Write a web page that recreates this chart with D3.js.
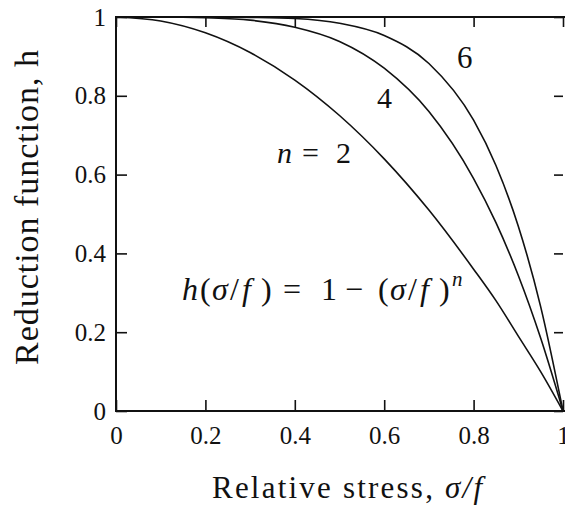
<!DOCTYPE html>
<html>
<head>
<meta charset="utf-8">
<script src="https://cdn.jsdelivr.net/npm/d3@7"></script>
<style>
  html, body { margin: 0; padding: 0; background: #fff; }
</style>
</head>
<body>
<div id="chart"></div>
<script>
// values
const stressValues = [0, 0.1, 0.2, 0.3, 0.4, 0.5, 0.6, 0.7, 0.8, 0.85, 0.9, 0.95, 1];
const hN2 = [1, 0.99, 0.96, 0.91, 0.84, 0.75, 0.64, 0.51, 0.36, 0.28, 0.19, 0.10, 0];
const hN4 = [1, 1.0, 0.998, 0.992, 0.974, 0.938, 0.87, 0.76, 0.59, 0.478, 0.344, 0.185, 0];
const hN6 = [1, 1, 1, 0.999, 0.996, 0.984, 0.953, 0.882, 0.738, 0.623, 0.469, 0.265, 0];
const xTicks = [0, 0.2, 0.4, 0.6, 0.8, 1];
const yTicks = [0, 0.2, 0.4, 0.6, 0.8, 1];

const serif = "'Liberation Serif'";
const width = 565, height = 511;
const margin = { top: 17, right: 2, bottom: 100, left: 116 };
const innerW = width - margin.left - margin.right;
const innerH = height - margin.top - margin.bottom;

const svg = d3.select('#chart')
  .append('svg')
  .attr('width', width)
  .attr('height', height);

const g = svg.append('g')
  .attr('transform', `translate(${margin.left},${margin.top})`);

const x = d3.scaleLinear().domain([0, 1]).range([0, innerW]);
const y = d3.scaleLinear().domain([0, 1]).range([innerH, 0]);

// bottom axis, ticks pointing in
const xAxis = g.append('g')
  .attr('transform', `translate(0,${innerH})`)
  .call(d3.axisBottom(x).tickValues(xTicks).tickSize(-11).tickPadding(15).tickFormat(d => String(d)));
// left axis
const yAxis = g.append('g')
  .call(d3.axisLeft(y).tickValues(yTicks).tickSize(-11).tickPadding(10).tickFormat(d => String(d)));
// top and right: ticks only
const topAxis = g.append('g')
  .call(d3.axisTop(x).tickValues(xTicks).tickSize(-10).tickFormat(''));
const rightAxis = g.append('g')
  .attr('transform', `translate(${innerW},0)`)
  .call(d3.axisRight(y).tickValues(yTicks).tickSize(-9).tickFormat(''));

[xAxis, yAxis, topAxis, rightAxis].forEach(a => {
  a.select('.domain').remove();
  a.selectAll('line').attr('stroke', '#111').attr('stroke-width', 1.6);
  a.selectAll('text')
    .attr('fill', '#111')
    .style('font-family', serif)
    .style('font-size', '25px');
});

// frame (right side runs off the picture, as in the scan)
g.append('path')
  .attr('d', `M${innerW + 4},0H0V${innerH}H${innerW + 4}`)
  .attr('fill', 'none')
  .attr('stroke', '#111')
  .attr('stroke-width', 2);

// curves
const line = d3.line()
  .x((d, i) => x(stressValues[i]))
  .y(d => y(d))
  .curve(d3.curveMonotoneX);

[hN2, hN4, hN6].forEach(series => {
  g.append('path')
    .datum(series)
    .attr('d', line)
    .attr('fill', 'none')
    .attr('stroke', '#111')
    .attr('stroke-width', 1.6);
});

const label = (xPos, yPos, size) => svg.append('text')
  .attr('x', xPos).attr('y', yPos)
  .attr('fill', '#111')
  .style('font-family', serif)
  .style('font-size', size + 'px');

// piecewise math text, each piece at its own x
const mathText = (yPos, size, pieces) => {
  const t = label(pieces[0][0], yPos, size);
  pieces.forEach(([px, str, italic, extra]) => {
    const s = t.append('tspan').attr('x', px).text(str);
    if (italic) s.style('font-style', 'italic');
    if (extra) extra(s);
  });
  return t;
};

// curve labels
label(457, 68, 31).text('6');
label(377, 108, 30).text('4');
mathText(163, 30, [[277, 'n', true], [302, '=', false], [336, '2', false]]);

// formula
mathText(300, 32, [
  [182, 'h', true], [200, '(', false], [212, 'σ', true], [230, '/', false], [242, 'f', true], [261, ')', false],
  [283, '=', false], [321, '1', false], [345, '−', false],
  [378, '(', false], [390, 'σ', true], [408, '/', false], [420, 'f', true], [439, ')', false],
  [452, 'n', true, s => s.attr('y', 286).style('font-size', '21px')]
]);

// axis captions
const xCap = label(212, 498, 31).attr('textLength', 270).attr('lengthAdjust', 'spacing');
xCap.append('tspan').text('Relative stress, ');
xCap.append('tspan').style('font-style', 'italic').text('σ/f');

label(0, 0, 34)
  .attr('transform', 'translate(38,365) rotate(-90)')
  .attr('textLength', 315)
  .attr('lengthAdjust', 'spacing')
  .text('Reduction function, h');
</script>
</body>
</html>
